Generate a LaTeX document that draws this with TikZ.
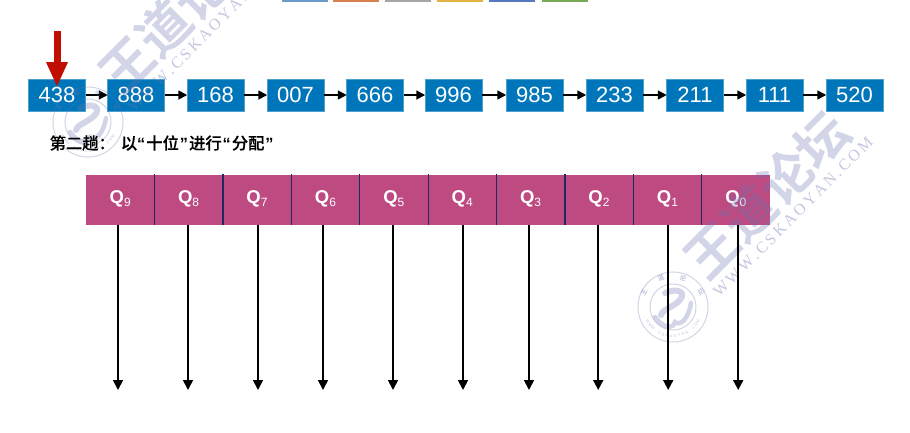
\documentclass[tikz,border=0pt]{standalone}
\usepackage{fontspec}
\setmainfont{Liberation Sans}
\newfontfamily\cjk{Noto Sans CJK SC Medium}
\newfontfamily\cjkcap[FakeBold=0.25]{Noto Sans CJK SC Medium}
\newfontfamily\cjkb{Noto Sans CJK SC Bold}
\newfontfamily\wmserif{Liberation Serif}
\usetikzlibrary{arrows.meta}
\definecolor{blueb}{HTML}{0076BA}
\definecolor{rose}{HTML}{BD4A81}
\definecolor{sepb}{HTML}{1F2A5C}
\definecolor{darkred}{HTML}{C00F00}
\definecolor{wm}{RGB}{108,115,178}
\tikzset{
 x=1pt,y=-1pt,
 numbox/.style={fill=blueb,draw=blueb!70!white,line width=.5pt,minimum width=57pt,minimum height=32pt,inner sep=0pt,text=white,text height=15.5pt,text depth=0pt,font=\fontsize{22}{22}\selectfont},
 qbox/.style={fill=rose,minimum width=68.4pt,minimum height=50pt,inner sep=0pt,text=white,text height=11pt,text depth=3pt,font=\fontsize{18.5}{18.5}\selectfont\bfseries},
 link/.style={line width=1.7pt,-{Triangle[length=9pt,width=9pt]},black,shorten >=-.5pt},
 qarrow/.style={line width=1.7pt,-{Triangle[length=10pt,width=10pt]},black},
 sep/.style={sepb,line width=1.1pt},
 tabbtn/.style={minimum width=46pt,minimum height=1.5pt,inner sep=0pt},
 wmtitle/.style={rotate=45,text=wm,opacity=.3,font=\cjkb\fontsize{52}{52}\selectfont,inner sep=0pt},
 wmurl/.style={rotate=45,text=wm,opacity=.4,font=\wmserif\fontsize{16}{16}\selectfont,inner sep=0pt},
 wmring/.style={draw=wm,opacity=.3},
 wmseal/.style={text=wm,opacity=.5,font=\cjk\fontsize{6.5}{6.5}\selectfont,inner sep=0pt},
 wmtiny/.style={text=wm,opacity=.45,font=\fontsize{3.8}{3.8}\selectfont,inner sep=0pt},
}
\newcommand{\qlab}[1]{Q\raisebox{-2.5pt}{\fontsize{12}{12}\selectfont\mdseries #1}}
\newcommand{\wmark}[2]{%
 \begin{scope}[shift={(#1,#2)}]
  \node[wmtitle] (wt#1) at (182,10) {王道论坛};
  \node[wmurl] (wu#1) at (208,32) {W\,W\,W\,.\,C\,S\,K\,A\,O\,Y\,A\,N\,.\,C\,O\,M};
  \draw[wmring,line width=1pt] (88,122) circle (35);
  \draw[wmring,line width=1pt] (88,122) circle (23);
  \draw[wmring,line width=6pt,line cap=round] (80,108) .. controls (94,102) and (102,108) .. (94,116) .. controls (88,122) and (78,124) .. (76,130);
  \draw[wmring,line width=4.5pt,line cap=round] (70,132) .. controls (80,146) and (90,142) .. (90,137) .. controls (96,142) and (104,132) .. (106,118);
  \node[wmseal,rotate=62] (ws1#1) at (59,107) {王};
  \node[wmseal,rotate=22] (ws2#1) at (76,93) {道};
  \node[wmseal,rotate=-20] (ws3#1) at (98,93) {论};
  \node[wmseal,rotate=-60] (ws4#1) at (116,107) {坛};
  \foreach \ch [count=\k from 0, evaluate=\k as \ang using 150-8*\k, evaluate=\k as \rot using 90-(150-8*\k)] in {W,W,W,.,C,S,K,A,O,Y,A,N,.,C,O,M}
   \node[wmtiny,rotate=\rot] (wc#1-\k) at ({88+29*cos(\ang)},{122+29*sin(\ang)}) {\ch};
 \end{scope}}
\begin{document}
\begin{tikzpicture}
\useasboundingbox (0,0) rectangle (910,432);
\fill[white] (0,0) rectangle (910,432);
% toolbar remnants
\foreach \n/\x/\c in {a/305/6C9BC9,b/356/D87F4F,c/408/A5A5A5,d/460/E5B143,e/512/5679BE,f/565/77A957}{
 \definecolor{tc}{HTML}{\c}
 \fill[gray!45] (\x-23,0) rectangle (\x+23,2.4);
 \node[tabbtn,fill=tc,anchor=north] (tab\n) at (\x,0) {};
}
% list
\node[numbox] (n0) at (57,95) {438};
\node[numbox] (n1) at (136,95) {888};
\node[numbox] (n2) at (215.5,95) {168};
\node[numbox] (n3) at (295.5,95) {007};
\node[numbox] (n4) at (375,95) {666};
\node[numbox] (n5) at (453.5,95) {996};
\node[numbox] (n6) at (534.5,95) {985};
\node[numbox] (n7) at (614.5,95) {233};
\node[numbox] (n8) at (695,95) {211};
\node[numbox] (n9) at (774.5,95) {111};
\node[numbox] (n10) at (854.5,95) {520};
\foreach \a/\b in {0/1,1/2,2/3,3/4,4/5,5/6,6/7,7/8,8/9,9/10}
 \draw[link] (n\a) -- (n\b);
% queues
\foreach \i/\x/\d in {0/120.2/9,1/188.6/8,2/257/7,3/325.4/6,4/393.8/5,5/462.2/4,6/530.6/3,7/599/2,8/667.4/1,9/735.8/0}{
 \node[qbox] (q\i) at (\x,199.5) {\qlab{\d}};
}
\foreach \i in {0,...,8}
 \draw[sep] (q\i.north east) -- ([yshift=-.7pt]q\i.south east);
% watermarks
\wmark{0}{0}
\wmark{585}{185}
% on top of the watermark
\foreach \i/\x in {0/118,1/188,2/258,3/323,4/393,5/463,6/529,7/598.2,8/668.2,9/738.2}{
 \coordinate (e\i) at (\x,390);
 \draw[qarrow] (e\i |- q\i.south) -- (e\i);
}
\coordinate (redtop) at (57,31);
\draw[darkred,line width=7pt,-{Triangle[length=25pt,width=20pt]}] (redtop) -- (n0.center |- 0,87);
\node[anchor=west,inner sep=0pt,font=\fontsize{16.3}{16.3}\selectfont] (cap) at (49.5,143)
 {{\cjkcap 第二趟：}\hspace{6pt}{\cjkcap 以}\textbf{“}\hspace{1pt}{\cjkcap 十位}\hspace{1pt}\textbf{”}\hspace{1pt}{\cjkcap 进行}\hspace{1pt}\textbf{“}\hspace{1pt}{\cjkcap 分配}\hspace{1pt}\textbf{”}};
\end{tikzpicture}
\end{document}
